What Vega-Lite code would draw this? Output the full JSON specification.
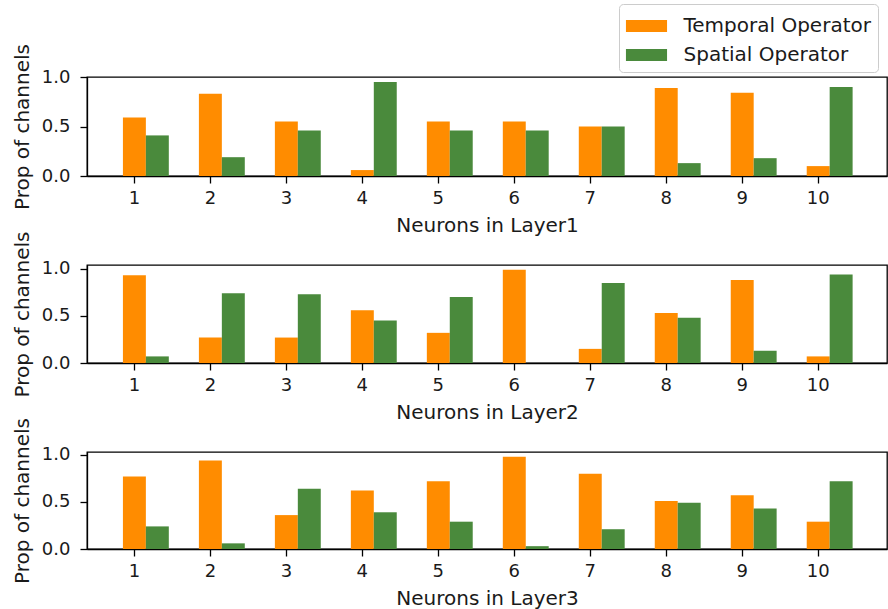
{
  "$schema": "https://vega.github.io/schema/vega-lite/v6.json",
  "padding": {"left": 11, "top": 3, "right": 0, "bottom": 0},
  "background": "white",
  "bounds": "flush",
  "spacing": 89,
  "datasets": {
    "props": [
      {"layer": "Layer1", "neuron": 1, "op": "Temporal Operator", "value": 0.59},
      {"layer": "Layer1", "neuron": 2, "op": "Temporal Operator", "value": 0.83},
      {"layer": "Layer1", "neuron": 3, "op": "Temporal Operator", "value": 0.55},
      {"layer": "Layer1", "neuron": 4, "op": "Temporal Operator", "value": 0.06},
      {"layer": "Layer1", "neuron": 5, "op": "Temporal Operator", "value": 0.55},
      {"layer": "Layer1", "neuron": 6, "op": "Temporal Operator", "value": 0.55},
      {"layer": "Layer1", "neuron": 7, "op": "Temporal Operator", "value": 0.50},
      {"layer": "Layer1", "neuron": 8, "op": "Temporal Operator", "value": 0.89},
      {"layer": "Layer1", "neuron": 9, "op": "Temporal Operator", "value": 0.84},
      {"layer": "Layer1", "neuron": 10, "op": "Temporal Operator", "value": 0.10},
      {"layer": "Layer1", "neuron": 1, "op": "Spatial Operator", "value": 0.41},
      {"layer": "Layer1", "neuron": 2, "op": "Spatial Operator", "value": 0.19},
      {"layer": "Layer1", "neuron": 3, "op": "Spatial Operator", "value": 0.46},
      {"layer": "Layer1", "neuron": 4, "op": "Spatial Operator", "value": 0.95},
      {"layer": "Layer1", "neuron": 5, "op": "Spatial Operator", "value": 0.46},
      {"layer": "Layer1", "neuron": 6, "op": "Spatial Operator", "value": 0.46},
      {"layer": "Layer1", "neuron": 7, "op": "Spatial Operator", "value": 0.50},
      {"layer": "Layer1", "neuron": 8, "op": "Spatial Operator", "value": 0.13},
      {"layer": "Layer1", "neuron": 9, "op": "Spatial Operator", "value": 0.18},
      {"layer": "Layer1", "neuron": 10, "op": "Spatial Operator", "value": 0.90},
      {"layer": "Layer2", "neuron": 1, "op": "Temporal Operator", "value": 0.93},
      {"layer": "Layer2", "neuron": 2, "op": "Temporal Operator", "value": 0.27},
      {"layer": "Layer2", "neuron": 3, "op": "Temporal Operator", "value": 0.27},
      {"layer": "Layer2", "neuron": 4, "op": "Temporal Operator", "value": 0.56},
      {"layer": "Layer2", "neuron": 5, "op": "Temporal Operator", "value": 0.32},
      {"layer": "Layer2", "neuron": 6, "op": "Temporal Operator", "value": 0.99},
      {"layer": "Layer2", "neuron": 7, "op": "Temporal Operator", "value": 0.15},
      {"layer": "Layer2", "neuron": 8, "op": "Temporal Operator", "value": 0.53},
      {"layer": "Layer2", "neuron": 9, "op": "Temporal Operator", "value": 0.88},
      {"layer": "Layer2", "neuron": 10, "op": "Temporal Operator", "value": 0.07},
      {"layer": "Layer2", "neuron": 1, "op": "Spatial Operator", "value": 0.07},
      {"layer": "Layer2", "neuron": 2, "op": "Spatial Operator", "value": 0.74},
      {"layer": "Layer2", "neuron": 3, "op": "Spatial Operator", "value": 0.73},
      {"layer": "Layer2", "neuron": 4, "op": "Spatial Operator", "value": 0.45},
      {"layer": "Layer2", "neuron": 5, "op": "Spatial Operator", "value": 0.70},
      {"layer": "Layer2", "neuron": 6, "op": "Spatial Operator", "value": 0.0},
      {"layer": "Layer2", "neuron": 7, "op": "Spatial Operator", "value": 0.85},
      {"layer": "Layer2", "neuron": 8, "op": "Spatial Operator", "value": 0.48},
      {"layer": "Layer2", "neuron": 9, "op": "Spatial Operator", "value": 0.13},
      {"layer": "Layer2", "neuron": 10, "op": "Spatial Operator", "value": 0.94},
      {"layer": "Layer3", "neuron": 1, "op": "Temporal Operator", "value": 0.77},
      {"layer": "Layer3", "neuron": 2, "op": "Temporal Operator", "value": 0.94},
      {"layer": "Layer3", "neuron": 3, "op": "Temporal Operator", "value": 0.36},
      {"layer": "Layer3", "neuron": 4, "op": "Temporal Operator", "value": 0.62},
      {"layer": "Layer3", "neuron": 5, "op": "Temporal Operator", "value": 0.72},
      {"layer": "Layer3", "neuron": 6, "op": "Temporal Operator", "value": 0.98},
      {"layer": "Layer3", "neuron": 7, "op": "Temporal Operator", "value": 0.80},
      {"layer": "Layer3", "neuron": 8, "op": "Temporal Operator", "value": 0.51},
      {"layer": "Layer3", "neuron": 9, "op": "Temporal Operator", "value": 0.57},
      {"layer": "Layer3", "neuron": 10, "op": "Temporal Operator", "value": 0.29},
      {"layer": "Layer3", "neuron": 1, "op": "Spatial Operator", "value": 0.24},
      {"layer": "Layer3", "neuron": 2, "op": "Spatial Operator", "value": 0.06},
      {"layer": "Layer3", "neuron": 3, "op": "Spatial Operator", "value": 0.64},
      {"layer": "Layer3", "neuron": 4, "op": "Spatial Operator", "value": 0.39},
      {"layer": "Layer3", "neuron": 5, "op": "Spatial Operator", "value": 0.29},
      {"layer": "Layer3", "neuron": 6, "op": "Spatial Operator", "value": 0.03},
      {"layer": "Layer3", "neuron": 7, "op": "Spatial Operator", "value": 0.21},
      {"layer": "Layer3", "neuron": 8, "op": "Spatial Operator", "value": 0.49},
      {"layer": "Layer3", "neuron": 9, "op": "Spatial Operator", "value": 0.43},
      {"layer": "Layer3", "neuron": 10, "op": "Spatial Operator", "value": 0.72}
    ]
  },
  "data": {"name": "props"},
  "vconcat": [
    {
      "width": 800,
      "height": 99,
      "transform": [{"filter": "datum.layer === 'Layer1'"}],
      "mark": {"type": "bar"},
      "encoding": {
        "x": {"field": "neuron", "type": "ordinal", "title": "Neurons in Layer1",
              "scale": {"paddingInner": 0.094, "paddingOuter": 0.3117, "align": 0.274}},
        "xOffset": {"field": "op", "type": "nominal", "scale": {"domain": ["_", "Temporal Operator", "Spatial Operator"]}},
        "y": {"field": "value", "type": "quantitative", "title": "Prop of channels",
              "scale": {"domain": [0, 1.0], "nice": false, "zero": true}},
        "color": {"field": "op", "type": "nominal", "title": null,
                  "scale": {"domain": ["Temporal Operator", "Spatial Operator"], "range": ["#ff8c00", "#4a8a3c"]}}
      }
    },
    {
      "width": 800,
      "height": 98,
      "transform": [{"filter": "datum.layer === 'Layer2'"}],
      "mark": {"type": "bar"},
      "encoding": {
        "x": {"field": "neuron", "type": "ordinal", "title": "Neurons in Layer2",
              "scale": {"paddingInner": 0.094, "paddingOuter": 0.3117, "align": 0.274}},
        "xOffset": {"field": "op", "type": "nominal", "scale": {"domain": ["_", "Temporal Operator", "Spatial Operator"]}},
        "y": {"field": "value", "type": "quantitative", "title": "Prop of channels",
              "scale": {"domain": [0, 1.04], "nice": false, "zero": true}},
        "color": {"field": "op", "type": "nominal", "title": null,
                  "scale": {"domain": ["Temporal Operator", "Spatial Operator"], "range": ["#ff8c00", "#4a8a3c"]}}
      }
    },
    {
      "width": 800,
      "height": 97,
      "transform": [{"filter": "datum.layer === 'Layer3'"}],
      "mark": {"type": "bar"},
      "encoding": {
        "x": {"field": "neuron", "type": "ordinal", "title": "Neurons in Layer3",
              "scale": {"paddingInner": 0.094, "paddingOuter": 0.3117, "align": 0.274}},
        "xOffset": {"field": "op", "type": "nominal", "scale": {"domain": ["_", "Temporal Operator", "Spatial Operator"]}},
        "y": {"field": "value", "type": "quantitative", "title": "Prop of channels",
              "scale": {"domain": [0, 1.03], "nice": false, "zero": true}},
        "color": {"field": "op", "type": "nominal", "title": null,
                  "scale": {"domain": ["Temporal Operator", "Spatial Operator"], "range": ["#ff8c00", "#4a8a3c"]}}
      }
    }
  ],
  "config": {
    "font": "DejaVu Sans",
    "view": {"stroke": "#000000", "strokeWidth": 1.3},
    "axis": {
      "grid": false,
      "domainColor": "#000000",
      "domainWidth": 1.3,
      "tickColor": "#000000",
      "tickWidth": 1.3,
      "tickSize": 7,
      "labelFont": "DejaVu Sans",
      "labelFontSize": 18,
      "labelColor": "#1a1a1a",
      "labelPadding": 7,
      "titleFont": "DejaVu Sans",
      "titleFontSize": 20,
      "titleFontWeight": "normal",
      "titleColor": "#1a1a1a"
    },
    "axisX": {"labelAngle": 0, "titlePadding": 8, "labelPadding": 6},
    "axisY": {"values": [0, 0.5, 1.0], "format": ".1f", "titlePadding": 9, "labelPadding": 10},
    "legend": {
      "orient": "none",
      "legendX": 532,
      "legendY": -73,
      "title": null,
      "fillColor": "rgba(255,255,255,0.8)",
      "strokeColor": "#cccccc",
      "cornerRadius": 4,
      "padding": 7,
      "symbolType": "M-1.37,-0.4H1.37V0.4H-1.37Z",
      "symbolSize": 900,
      "symbolStrokeWidth": 0,
      "symbolOpacity": 1,
      "symbolOffset": 5.5,
      "labelFont": "DejaVu Sans",
      "labelFontSize": 20,
      "labelColor": "#1a1a1a",
      "labelOffset": 22,
      "labelLimit": 400,
      "rowPadding": 4
    }
  }
}
